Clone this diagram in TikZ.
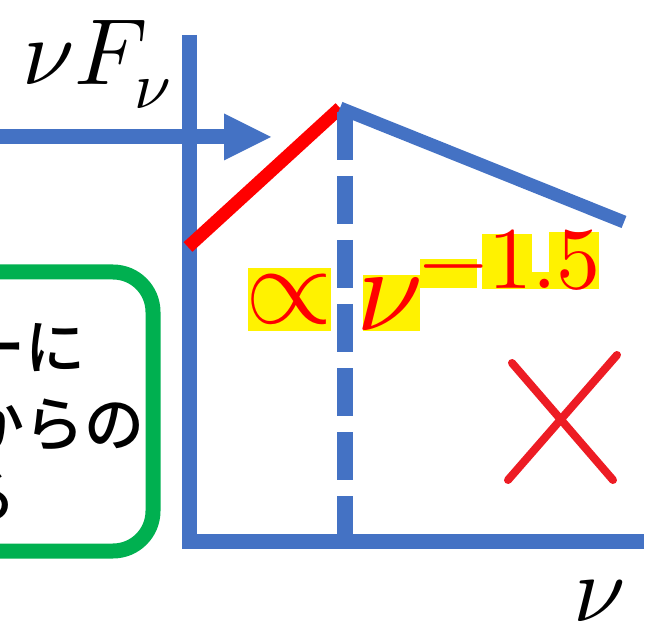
\documentclass[tikz,border=0pt]{standalone}
\usepackage{fontspec}
\usepackage{unicode-math}
\newfontfamily\jpfont{Noto Sans CJK JP Medium}
\usetikzlibrary{arrows.meta}
\definecolor{bleuaxe}{HTML}{4472C4}
\definecolor{vertcadre}{HTML}{00B050}
\definecolor{rougecroix}{HTML}{ED1C24}
\begin{document}
\begin{tikzpicture}[x=1pt,y=-1pt]
	% Styles
	\tikzstyle{axe}=[bleuaxe,line width=15pt]
	\tikzstyle{pente}=[line width=13pt]
	\tikzstyle{surligne}=[fill=yellow,inner sep=0pt]
	\tikzstyle{formule}=[text=red,inner sep=0pt]
	\tikzstyle{texte}=[inner sep=0pt,anchor=base east,font=\jpfont\fontsize{60}{64}\selectfont]
	\tikzstyle{etiquette}=[inner sep=0pt,font=\fontsize{94}{94}\selectfont]
	% Cadre
	\useasboundingbox (0,0) rectangle (649,623);
	\clip (0,0) rectangle (649,623);
	% Points
	\coordinate (Yh) at (189,35);
	\coordinate (O) at (189,541);
	\coordinate (Xd) at (644,541);
	\coordinate (Fg) at (0,137);
	\coordinate (Fd) at (271,137);
	\coordinate (Ra) at (188,247);
	\coordinate (S) at (340,108);
	\coordinate (Pd) at (624,222);
	\coordinate (Dh) at (345,112);
	\coordinate (Db) at (345,541);
	% Boite verte et texte
	\draw[vertcadre,line width=15pt,rounded corners=40pt] (-60,272) rectangle (153,551);
	\node[texte] (L1) at (86,370) {ーに};
	\node[texte] (L2) at (145,446) {からの};
	\node[texte] (L3) at (17,518) {る};
	% Axes
	\draw[axe,line join=miter] (Yh)--(O)--(Xd);
	\draw[axe,-{Triangle[length=47pt,width=47pt,line width=0pt]}] (Fg)--(Fd);
	\draw[pente,red] (Ra)--(S);
	\draw[pente,bleuaxe] (S)--(Pd);
	\draw[bleuaxe,line width=16pt,dash pattern=on 48pt off 16pt] (Dh)--(Db);
	% Etiquettes des axes
	\node[etiquette,anchor=base west] (NuF) at (22,85) {$\nu F_\nu$};
	\node[etiquette,anchor=base] (Nu) at (599,621) {$\nu$};
	% Loi de puissance
	\node[surligne,minimum width=83pt,minimum height=63pt] (HlProp) at (289.5,299.5) {};
	\node[surligne,minimum width=57pt,minimum height=56pt] (HlNu) at (391.5,303) {};
	\node[surligne,minimum width=57pt,minimum height=29pt] (HlMoins) at (448.5,273.5) {};
	\node[surligne,minimum width=50pt,minimum height=55pt] (HlUn) at (507,261.5) {};
	\node[surligne,minimum width=17pt,minimum height=17pt] (HlPoint) at (540.5,280.5) {};
	\node[surligne,minimum width=50pt,minimum height=57pt] (HlCinq) at (574,260.5) {};
	\node[formule,font=\fontsize{112}{112}\selectfont] (Prop) at (HlProp.center) {$\propto$};
	\node[formule,font=\fontsize{120}{120}\selectfont] (NuR) at (390,303.5) {$\nu$};
	\node[formule,font=\fontsize{88}{88}\selectfont] (Expo) at (510,260.5) {$-1.5$};
	% Croix
	\draw[rougecroix,line width=8pt,line cap=round] (512,363)--(613,480);
	\draw[rougecroix,line width=8pt,line cap=round] (617,355)--(508,480);
\end{tikzpicture}
\end{document}
